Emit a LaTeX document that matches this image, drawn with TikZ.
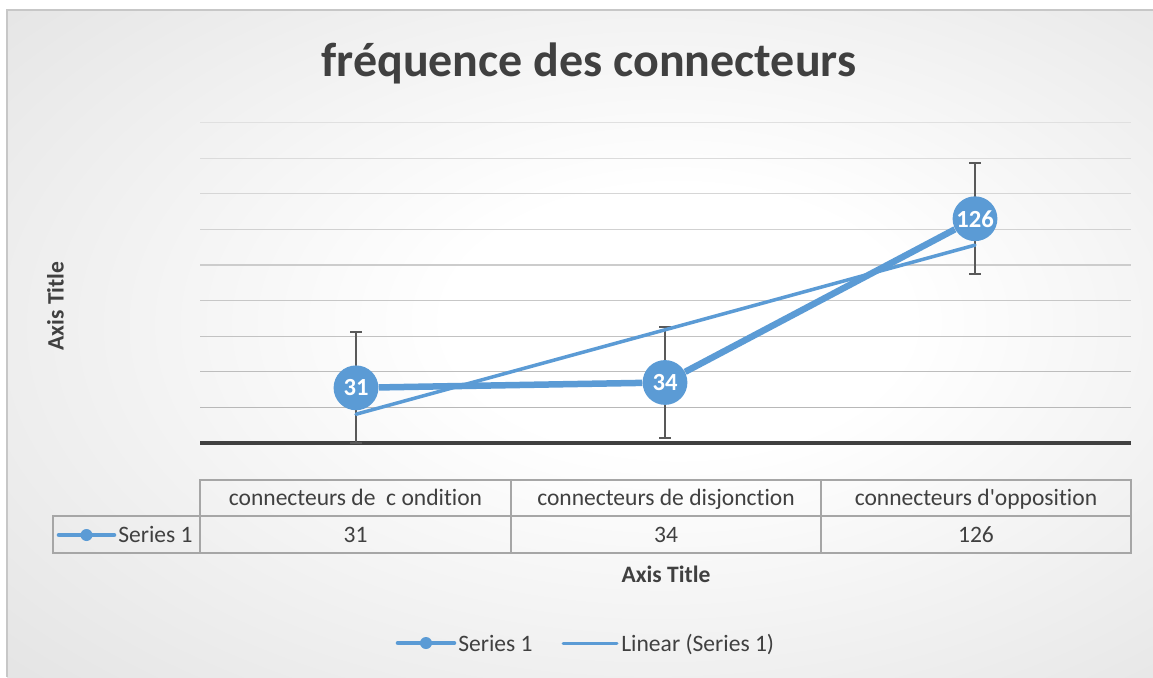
\documentclass[tikz,border=0pt]{standalone}
\usepackage{fontspec}
\setmainfont{Carlito}[Ligatures=NoCommon]
\newfontfamily\chartfont{Carlito}[Ligatures=NoCommon]
\usetikzlibrary{calc}
\definecolor{serblue}{HTML}{5B9BD5}
\definecolor{txtgray}{HTML}{404040}
\definecolor{tabgray}{HTML}{A6A6A6}
\definecolor{errgray}{HTML}{595959}
\pgfdeclareradialshading{chartbg}{\pgfpoint{5bp}{2bp}}{%
    color(0bp)=(white); color(10bp)=(white);
    color(50bp)=(black!15); color(72bp)=(black!25)}
\tikzset{
    txt/.style={font=\chartfont\fontsize{13.4}{16}\selectfont,text=txtgray,inner sep=0pt},
    bold txt/.style={txt,font=\chartfont\fontsize{13.4}{16}\selectfont\bfseries},
    tabline/.style={draw=tabgray,line width=0.85pt},
    serline/.style={serblue,line width=3.7pt,line join=round},
    trendline/.style={serblue,line width=2pt,line cap=round},
    errbar/.style={errgray,line width=1pt},
    marker/.style={circle,fill=serblue,minimum size=25.5pt,inner sep=0pt,
        text=white,font=\chartfont\fontsize{14}{16}\selectfont\bfseries}
}

\begin{document}
\begin{tikzpicture}[x=0.02cm,y=-0.02cm,line cap=butt]
    \useasboundingbox (0,0) rectangle (1153,677);
    % chart area
    \shade[shading=chartbg] (7,10) rectangle (1153,677);
    \draw[black!22,line width=0.7pt] (7,677) -- (7,10) -- (1153,10);
    \node[font=\chartfont\fontsize{27.3}{30}\selectfont\bfseries,text=txtgray,inner sep=0pt,anchor=base]
        (title) at (589,76) {fréquence des connecteurs};
    % grid and axis
    \foreach \k in {1,...,9}{
        \pgfmathtruncatemacro{\shadeval}{30-2*\k}
        \draw[black!\shadeval,line width=0.75pt] (200,{443-35.6*\k}) -- (1131,{443-35.6*\k});
    }
    \draw[txtgray,line width=2.25pt] (200,443) coordinate (ax0) -- (1131,443) coordinate (ax1);
    \node[bold txt,rotate=90,anchor=base] (ytitle) at (63.5,306) {Axis Title};
    % error bars (standard error)
    \foreach \v/\x/\n in {31/356/1,34/665/2,126/975/3}{
        \coordinate (e\n t) at (\x,{443-1.78*(\v+31.2)});
        \coordinate (e\n b) at (\x,{443-1.78*(\v-31.2)});
        \draw[errbar] (e\n t) -- (e\n b)
            (e\n t) ++(-6,0) -- ++(12,0)
            (e\n b) ++(-6,0) -- ++(12,0);
    }
    % series
    \foreach \v/\x/\n in {31/356/1,34/665/2,126/975/3}
        \node[marker] (p\n) at (\x,{443-1.78*\v}) {\v};
    \draw[serline] (p1) -- (p2) -- (p3);
    % linear trend
    \coordinate (t1) at (356,{443-1.78*16.17});
    \coordinate (t3) at (975,{443-1.78*111.17});
    \draw[trendline] (t1) -- (t3);
    % data table
    \draw[tabline] (200,480) rectangle (1131,553);
    \draw[tabline] (53,516) rectangle (200,553);
    \draw[tabline] (200,516) -- (1131,516)
        (511,480) -- (511,553) (821,480) -- (821,553);
    \node[txt,anchor=base] (h1) at (355.5,505) {connecteurs de\ \ c ondition};
    \node[txt,anchor=base] (h2) at (666,505) {connecteurs de disjonction};
    \node[txt,anchor=base] (h3) at (976,505) {connecteurs d'opposition};
    \node[txt,anchor=base] (v1) at (355.5,542) {31};
    \node[txt,anchor=base] (v2) at (666,542) {34};
    \node[txt,anchor=base] (v3) at (976,542) {126};
    \coordinate (k0a) at (59,535);
    \coordinate (k0b) at (114,535);
    \draw[serblue,line width=2.6pt,line cap=round] (k0a) -- (k0b);
    \fill[serblue] ($(k0a)!0.5!(k0b)$) circle[radius=6];
    \node[txt,anchor=base west] (s0) at (118,542) {Series 1};
    \node[bold txt,anchor=base] (xtitle) at (666,582) {Axis Title};
    % legend
    \coordinate (k1a) at (398,643);
    \coordinate (k1b) at (454,643);
    \draw[serblue,line width=2.6pt,line cap=round] (k1a) -- (k1b);
    \fill[serblue] ($(k1a)!0.5!(k1b)$) circle[radius=6];
    \node[txt,anchor=base west] (leg1) at (458,651) {Series 1};
    \coordinate (k2a) at (563,643);
    \coordinate (k2b) at (617,643);
    \draw[serblue,line width=1.7pt,line cap=round] (k2a) -- (k2b);
    \node[txt,anchor=base west] (leg2) at (621,651) {Linear (Series 1)};
\end{tikzpicture}
\end{document}
